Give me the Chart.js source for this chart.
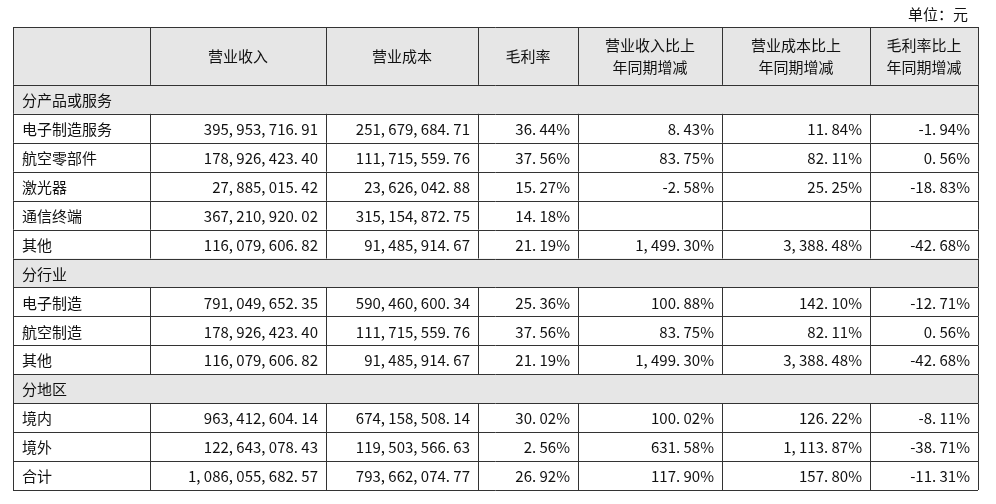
<!DOCTYPE html>
<html>
<head>
<meta charset="utf-8">
<script src="https://cdn.jsdelivr.net/npm/chart.js@4/dist/chart.umd.min.js"></script>
<style>
  html, body { margin: 0; padding: 0; background: #fff; }
  #wrap { position: relative; width: 996px; height: 504px; }
</style>
</head>
<body>
<div id="wrap"><canvas id="tbl"></canvas></div>
<script>
// Table contents
const headers = ['', '营业收入', '营业成本', '毛利率', '营业收入比上\n年同期增减', '营业成本比上\n年同期增减', '毛利率比上\n年同期增减'];
const rowLabels = ['分产品或服务', '电子制造服务', '航空零部件', '激光器', '通信终端', '其他',
  '分行业', '电子制造', '航空制造', '其他', '分地区', '境内', '境外', '合计'];
const sectionRows = [0, 6, 10];
const revenue = [null, 395953716.91, 178926423.40, 27885015.42, 367210920.02, 116079606.82,
  null, 791049652.35, 178926423.40, 116079606.82, null, 963412604.14, 122643078.43, 1086055682.57];
const cost = [null, 251679684.71, 111715559.76, 23626042.88, 315154872.75, 91485914.67,
  null, 590460600.34, 111715559.76, 91485914.67, null, 674158508.14, 119503566.63, 793662074.77];
const margin = [null, 36.44, 37.56, 15.27, 14.18, 21.19, null, 25.36, 37.56, 21.19, null, 30.02, 2.56, 26.92];
const revenueChg = [null, 8.43, 83.75, -2.58, null, 1499.30, null, 100.88, 83.75, 1499.30, null, 100.02, 631.58, 117.90];
const costChg = [null, 11.84, 82.11, 25.25, null, 3388.48, null, 142.10, 82.11, 3388.48, null, 126.22, 1113.87, 157.80];
const marginChg = [null, -1.94, 0.56, -18.83, null, -42.68, null, -12.71, 0.56, -42.68, null, -8.11, -38.71, -11.31];

// column edges along the x scale (table units)
const colEdges = [0, 137, 313, 465, 565, 709, 857, 965];

const yLabels = ['h1', 'h2'].concat(rowLabels.map((_, i) => 'r' + i));

function fmt(v, pct) {
  if (v === null) return '';
  let s = v.toLocaleString('en-US', { minimumFractionDigits: 2, maximumFractionDigits: 2 });
  s = s.replace(/,/g, ', ').replace(/\./g, '. ');
  return pct ? s + '%' : s;
}

const tablePlugin = {
  id: 'tablePlugin',
  afterDraw(chart) {
    const { ctx, scales: { x, y } } = chart;
    const band = y.getPixelForValue(1) - y.getPixelForValue(0);
    const rowTop = i => y.getPixelForValue(i) - band / 2;
    const left = x.getPixelForValue(colEdges[0]);
    const right = x.getPixelForValue(colEdges[colEdges.length - 1]);
    const top = rowTop(0);
    const bottom = rowTop(yLabels.length);
    const font = '15px "Noto Sans CJK SC", sans-serif';
    ctx.save();

    // shaded header and section rows
    ctx.fillStyle = '#e6e6e6';
    ctx.fillRect(left, top, right - left, band * 2);
    sectionRows.forEach(r => ctx.fillRect(left, rowTop(r + 2), right - left, band));

    // grid lines
    ctx.strokeStyle = '#333';
    ctx.lineWidth = 1;
    ctx.beginPath();
    [0].concat(rowLabels.map((_, i) => i + 2), [yLabels.length]).forEach(i => {
      const yy = Math.round(rowTop(i)) + 0.5;
      ctx.moveTo(left, yy); ctx.lineTo(right, yy);
    });
    colEdges.forEach((c, ci) => {
      const xx = Math.round(x.getPixelForValue(c)) + 0.5;
      ctx.moveTo(xx, top);
      ctx.lineTo(xx, rowTop(2));
      rowLabels.forEach((_, r) => {
        if (sectionRows.includes(r) && ci > 0 && ci < colEdges.length - 1) return;
        ctx.moveTo(xx, rowTop(r + 2)); ctx.lineTo(xx, rowTop(r + 3));
      });
    });
    ctx.stroke();

    ctx.fillStyle = '#111';
    ctx.font = font;
    ctx.textBaseline = 'middle';

    // header text
    ctx.textAlign = 'center';
    headers.forEach((h, ci) => {
      if (!h) return;
      const cx = (x.getPixelForValue(colEdges[ci]) + x.getPixelForValue(colEdges[ci + 1])) / 2;
      const lines = h.split('\n');
      const mid = top + band;
      lines.forEach((ln, k) => ctx.fillText(ln, cx, mid + (k - (lines.length - 1) / 2) * 22));
    });

    // body
    const cols = [[revenue, false], [cost, false], [margin, true], [revenueChg, true], [costChg, true], [marginChg, true]];
    rowLabels.forEach((lab, r) => {
      const cy = y.getPixelForValue(r + 2) + 1;
      ctx.textAlign = 'left';
      ctx.fillText(lab, left + 9, cy);
      ctx.textAlign = 'right';
      cols.forEach(([arr, pct], ci) => {
        const t = fmt(arr[r], pct);
        if (t) ctx.fillText(t, x.getPixelForValue(colEdges[ci + 2]) - 8, cy);
      });
    });

    ctx.textAlign = 'right';
    ctx.fillText('单位：元', right - 10, top - 13);
    ctx.restore();
  }
};

new Chart(document.getElementById('tbl'), {
  type: 'scatter',
  data: { labels: yLabels, datasets: [{ data: [] }] },
  options: {
    responsive: true,
    maintainAspectRatio: false,
    animation: false,
    layout: { padding: { left: 13, right: 18, top: 27, bottom: 14 } },
    plugins: { legend: { display: false }, tooltip: { enabled: false } },
    scales: {
      x: { type: 'linear', min: colEdges[0], max: colEdges[colEdges.length - 1], display: false },
      y: { type: 'category', labels: yLabels, offset: true, display: false }
    }
  },
  plugins: [tablePlugin]
});
</script>
</body>
</html>
